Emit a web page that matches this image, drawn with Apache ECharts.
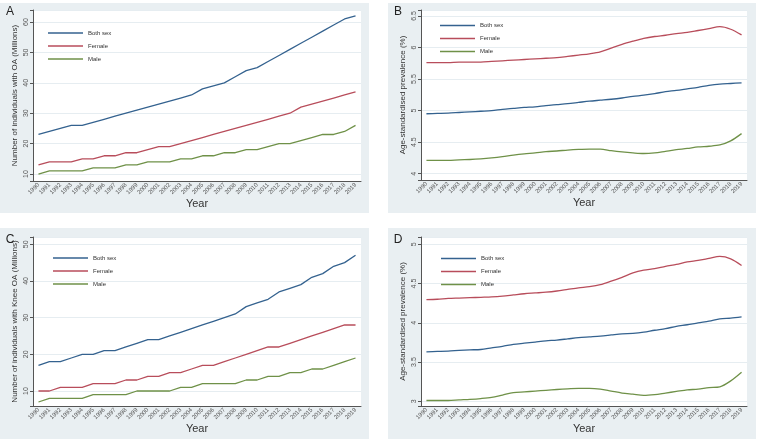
<!DOCTYPE html>
<html>
<head>
<meta charset="utf-8">
<script src="https://cdn.jsdelivr.net/npm/echarts@6/dist/echarts.min.js"></script>
<style>
  html, body { margin: 0; padding: 0; background: #fff; }
  #chart { width: 758px; height: 442px; }
</style>
</head>
<body>
<div id="chart"></div>
<script>
const years = ['1990', '1991', '1992', '1993', '1994', '1995', '1996', '1997', '1998', '1999',
  '2000', '2001', '2002', '2003', '2004', '2005', '2006', '2007', '2008', '2009',
  '2010', '2011', '2012', '2013', '2014', '2015', '2016', '2017', '2018', '2019'];

// A: number of individuals with OA (millions)
const oaBoth = [23, 24, 25, 26, 26, 27, 28, 29, 30, 31, 32, 33, 34, 35, 36, 38, 39, 40, 42, 44, 45, 47, 49, 51, 53, 55, 57, 59, 61, 62];
const oaFemale = [13, 14, 14, 14, 15, 15, 16, 16, 17, 17, 18, 19, 19, 20, 21, 22, 23, 24, 25, 26, 27, 28, 29, 30, 32, 33, 34, 35, 36, 37];
const oaMale = [10, 11, 11, 11, 11, 12, 12, 12, 13, 13, 14, 14, 14, 15, 15, 16, 16, 17, 17, 18, 18, 19, 20, 20, 21, 22, 23, 23, 24, 26];

// B: age-standardised prevalence of OA (%)
const oaRateBoth = [4.95, 4.955, 4.96, 4.97, 4.98, 4.99, 5.00, 5.02, 5.035, 5.05, 5.06, 5.08, 5.095, 5.11, 5.13, 5.15, 5.165, 5.18, 5.20, 5.225, 5.245, 5.27, 5.30, 5.32, 5.345, 5.37, 5.40, 5.42, 5.43, 5.44];
const oaRateFemale = [5.76, 5.76, 5.76, 5.77, 5.77, 5.77, 5.78, 5.79, 5.80, 5.81, 5.82, 5.83, 5.84, 5.86, 5.88, 5.90, 5.93, 5.99, 6.05, 6.10, 6.145, 6.175, 6.195, 6.22, 6.24, 6.27, 6.30, 6.33, 6.29, 6.20];
const oaRateMale = [4.21, 4.21, 4.21, 4.22, 4.225, 4.235, 4.25, 4.27, 4.295, 4.315, 4.33, 4.35, 4.36, 4.375, 4.385, 4.39, 4.39, 4.365, 4.345, 4.33, 4.32, 4.33, 4.355, 4.38, 4.40, 4.425, 4.435, 4.455, 4.52, 4.635];

// C: number of individuals with knee OA (millions)
const kneeBoth = [17, 18, 18, 19, 20, 20, 21, 21, 22, 23, 24, 24, 25, 26, 27, 28, 29, 30, 31, 33, 34, 35, 37, 38, 39, 41, 42, 44, 45, 47];
const kneeFemale = [10, 10, 11, 11, 11, 12, 12, 12, 13, 13, 14, 14, 15, 15, 16, 17, 17, 18, 19, 20, 21, 22, 22, 23, 24, 25, 26, 27, 28, 28];
const kneeMale = [7, 8, 8, 8, 8, 9, 9, 9, 9, 10, 10, 10, 10, 11, 11, 12, 12, 12, 12, 13, 13, 14, 14, 15, 15, 16, 16, 17, 18, 19];

// D: age-standardised prevalence of knee OA (%)
const kneeRateBoth = [3.63, 3.635, 3.64, 3.648, 3.655, 3.66, 3.68, 3.70, 3.725, 3.74, 3.755, 3.77, 3.78, 3.795, 3.81, 3.82, 3.83, 3.845, 3.86, 3.865, 3.88, 3.905, 3.925, 3.955, 3.975, 4.00, 4.02, 4.05, 4.06, 4.075];
const kneeRateFemale = [4.295, 4.30, 4.31, 4.315, 4.32, 4.325, 4.33, 4.34, 4.355, 4.37, 4.38, 4.39, 4.405, 4.425, 4.445, 4.46, 4.485, 4.53, 4.58, 4.635, 4.67, 4.69, 4.72, 4.745, 4.775, 4.795, 4.82, 4.845, 4.815, 4.73];
const kneeRateMale = [3.01, 3.01, 3.01, 3.018, 3.025, 3.035, 3.05, 3.08, 3.11, 3.12, 3.13, 3.14, 3.15, 3.158, 3.165, 3.165, 3.155, 3.13, 3.105, 3.09, 3.075, 3.085, 3.105, 3.125, 3.145, 3.155, 3.175, 3.185, 3.26, 3.37];

const seriesNames = ['Both sex', 'Female', 'Male'];
const lineColors = ['#34628f', '#b84d5b', '#6f9148'];

const font = 'Liberation Sans, Arial, sans-serif';

const panels = [
  { letter: 'A', yName: 'Number of individuals with OA (Millions)', data: [oaBoth, oaFemale, oaMale],
    min: 7.7, max: 63.95, step: 10, smooth: false,
    grid: { left: 33, top: 10, width: 328, height: 171 }, legend: { left: 43, top: 24 },
    box: [0, 3, 369, 210], letterAt: [10, 12] },
  { letter: 'B', yName: 'Age-standardised prevalence (%)', data: [oaRateBoth, oaRateFemale, oaRateMale],
    min: 3.9, max: 6.595, step: 0.5, smooth: 0.3,
    grid: { left: 421, top: 10, width: 326, height: 170 }, legend: { left: 435, top: 16.5 },
    box: [388, 3, 368, 210], letterAt: [398, 12] },
  { letter: 'C', yName: 'Number of individuals with Knee OA (Millions)', data: [kneeBoth, kneeFemale, kneeMale],
    min: 5.91, max: 51.99, step: 10, smooth: false,
    grid: { left: 33, top: 237, width: 328, height: 169 }, legend: { left: 48, top: 249 },
    box: [0, 228, 369, 211], letterAt: [10, 240] },
  { letter: 'D', yName: 'Age-standardised prevalence (%)', data: [kneeRateBoth, kneeRateFemale, kneeRateMale],
    min: 2.94, max: 5.093, step: 0.5, smooth: 0.3,
    grid: { left: 421, top: 237, width: 326, height: 169 }, legend: { left: 436, top: 249.5 },
    box: [388, 228, 368, 211], letterAt: [398, 240] }
];

const grids = [], xAxes = [], yAxes = [], legends = [], series = [], graphics = [];

panels.forEach(function (p, i) {
  grids.push(Object.assign({ show: true, backgroundColor: '#ffffff', borderWidth: 0 }, p.grid));
  xAxes.push({
    type: 'category', gridIndex: i, data: years, boundaryGap: true,
    name: 'Year', nameLocation: 'middle', nameGap: 15,
    nameTextStyle: { fontSize: 11, color: '#333', fontFamily: font },
    axisLine: { lineStyle: { color: '#555', width: 1 } },
    axisTick: { alignWithLabel: true, interval: 0, length: 3, lineStyle: { color: '#555' } },
    axisLabel: { interval: 0, rotate: 45, fontSize: 6, margin: 3, color: '#555', fontFamily: font },
    splitLine: { show: false }
  });
  yAxes.push({
    type: 'value', gridIndex: i, min: p.min, max: p.max,
    name: p.yName, nameLocation: 'middle', nameGap: 14,
    nameTextStyle: { fontSize: 8, color: '#333', fontFamily: font },
    axisLine: { show: true, lineStyle: { color: '#555', width: 1 } },
    axisTick: { show: true, length: 3, lineStyle: { color: '#555' } },
    axisLabel: {
      rotate: 90, fontSize: 7, margin: 3, color: '#555', fontFamily: font,
      formatter: function (v) {
        const k = v / p.step;
        return Math.abs(k - Math.round(k)) < 1e-6 ? String(+v.toFixed(1)) : '';
      }
    },
    splitLine: { lineStyle: { color: '#e6edf1', width: 1 } }
  });
  legends.push({
    orient: 'vertical', left: p.legend.left, top: p.legend.top,
    data: seriesNames, icon: 'rect', itemWidth: 35, itemHeight: 1.4, itemGap: 5,
    textStyle: { fontSize: 6, lineHeight: 8, color: '#333', fontFamily: font },
    selectedMode: false
  });
  p.data.forEach(function (vals, j) {
    series.push({
      type: 'line', name: seriesNames[j], xAxisIndex: i, yAxisIndex: i,
      data: vals, symbol: 'none', smooth: p.smooth,
      lineStyle: { color: lineColors[j], width: 1.3 },
      itemStyle: { color: lineColors[j] },
      emphasis: { disabled: true }
    });
  });
  graphics.push({
    type: 'rect', z: -10, silent: true,
    shape: { x: p.box[0], y: p.box[1], width: p.box[2], height: p.box[3] },
    style: { fill: '#e9eff2' }
  });
  graphics.push({
    type: 'text', z: 10, x: p.letterAt[0], y: p.letterAt[1],
    style: { text: p.letter, fontSize: 12, fill: '#222', fontFamily: font, textAlign: 'center', textVerticalAlign: 'middle' }
  });
});

const chart = echarts.init(document.getElementById('chart'));
chart.setOption({
  backgroundColor: '#ffffff',
  animation: false,
  graphic: graphics,
  grid: grids,
  xAxis: xAxes,
  yAxis: yAxes,
  legend: legends,
  series: series
});
</script>
</body>
</html>
